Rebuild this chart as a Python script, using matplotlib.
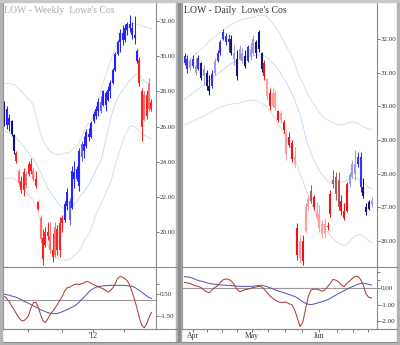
import numpy as np
import matplotlib
matplotlib.use("Agg")
import matplotlib.pyplot as plt
from matplotlib.patches import Rectangle
from matplotlib.lines import Line2D

plt.rcParams['font.family'] = 'Liberation Serif'

# ---------------- weekly LOW ----------------
wk_high = [27.44, 27.15, 26.70, 26.40, 25.58, 24.60, 23.60, 23.20, 23.66, 23.50,
           24.05, 24.20, 23.66, 23.50, 21.80, 20.96, 20.20, 20.28, 20.56, 20.56,
           19.94, 20.56, 20.40, 20.84, 20.96, 21.80, 22.53, 21.97, 23.77, 24.05,
           23.77, 24.80, 25.18, 25.46, 25.86, 25.92, 26.31, 26.87, 27.15, 27.60,
           27.72, 28.10, 28.00, 28.28, 28.67, 29.30, 30.25, 30.93, 31.55, 31.77,
           31.83, 31.94, 32.34, 31.94, 32.28, 30.42, 29.97, 28.20, 28.00, 28.10,
           28.73, 27.55]
wk_low = [26.03, 25.86, 25.75, 25.46, 24.45, 23.95, 22.65, 22.25, 22.08, 22.50,
          23.20, 23.30, 22.93, 22.50, 21.24, 19.38, 18.14, 19.15, 19.55, 18.82,
          18.31, 18.60, 18.70, 18.60, 20.00, 20.56, 21.24, 20.40, 21.35, 22.53,
          22.93, 22.37, 24.05, 24.23, 24.80, 25.18, 25.35, 26.20, 26.42, 26.60,
          26.76, 27.15, 26.87, 27.44, 27.60, 28.40, 29.13, 30.08, 30.25, 30.65,
          30.82, 31.21, 31.38, 30.99, 30.70, 29.58, 28.28, 25.20, 26.30, 26.42,
          26.87, 26.87]
wk_open = [26.30, 27.00, 26.10, 26.30, 25.50, 24.50, 23.50, 22.90, 22.40, 23.30,
           23.30, 23.90, 23.50, 23.00, 21.70, 20.80, 19.70, 19.30, 20.00, 19.80,
           19.00, 18.70, 20.20, 19.00, 20.50, 20.70, 21.50, 21.80, 21.40, 23.40,
           23.00, 22.60, 24.30, 25.00, 24.90, 25.60, 25.40, 26.30, 26.60, 26.90,
           27.40, 27.20, 27.90, 27.50, 28.00, 28.50, 29.20, 30.10, 30.80, 31.30,
           30.90, 31.50, 31.80, 31.60, 31.20, 30.30, 29.80, 28.00, 26.40, 27.80,
           27.00, 27.40]
wk_close = [27.20, 26.10, 26.50, 25.60, 24.60, 24.05, 22.80, 22.40, 23.40, 22.70,
            23.90, 23.50, 23.00, 22.60, 21.30, 19.60, 18.50, 20.00, 19.80, 19.00,
            18.60, 20.30, 19.00, 20.50, 20.80, 21.60, 22.30, 20.70, 23.50, 23.00,
            23.60, 24.60, 25.00, 24.60, 25.70, 25.40, 26.20, 26.70, 27.00, 27.40,
            26.90, 28.00, 27.20, 28.10, 28.50, 29.20, 30.10, 30.80, 31.30, 30.90,
            31.60, 31.80, 31.60, 31.20, 31.00, 29.70, 28.50, 26.00, 27.80, 26.60,
            28.50, 27.00]
wk_tone = list("nbbnn" + "rprrprrprrprrrprprrr" + "bblbbbblbbbbbbblbbbbbbbbbbbbbbb" + "rrprpr")
wk_upper = [28.45, 28.45, 28.43, 28.40, 28.40, 28.30, 28.15, 28.00, 27.85, 27.70,
            27.55, 27.45, 27.20, 26.60, 26.10, 25.60, 25.20, 24.95, 24.75, 24.60,
            24.50, 24.45, 24.40, 24.42, 24.45, 24.50, 24.50, 24.55, 24.65, 24.80,
            24.85, 25.10, 25.40, 25.70, 26.00, 26.20, 26.40, 26.60, 27.00, 27.50,
            28.00, 28.50, 28.90, 29.30, 29.70, 30.10, 30.50, 30.80, 31.10, 31.30,
            31.45, 31.60, 31.75, 31.83, 31.85, 31.80, 31.77, 31.72, 31.68, 31.64,
            31.60, 31.55]
wk_mid = [25.75, 25.70, 25.62, 25.55, 25.50, 25.35, 25.20, 25.05, 24.90, 24.70,
          24.50, 24.30, 24.15, 23.95, 23.70, 23.40, 23.10, 22.80, 22.50, 22.30,
          22.10, 21.90, 21.70, 21.50, 21.40, 21.35, 21.35, 21.40, 21.50, 21.60,
          21.75, 21.95, 22.15, 22.30, 22.50, 22.70, 22.95, 23.25, 23.55, 23.85,
          24.00, 24.60, 25.20, 25.80, 26.40, 26.90, 27.30, 27.60, 27.85, 28.05,
          28.25, 28.45, 28.60, 28.75, 28.90, 29.00, 28.95, 28.75, 28.60, 28.50,
          28.45, 28.40]
wk_lower = [23.04, 23.06, 23.08, 23.10, 23.05, 22.95, 22.80, 22.65, 22.50, 22.30,
            22.10, 21.95, 21.80, 21.50, 21.10, 20.70, 20.20, 19.70, 19.25, 18.95,
            18.80, 18.60, 18.50, 18.42, 18.42, 18.42, 18.42, 18.45, 18.55, 18.70,
            18.80, 18.95, 19.20, 19.50, 19.75, 19.90, 20.20, 20.60, 21.00, 21.30,
            21.60, 21.90, 22.20, 22.50, 22.80, 23.30, 23.80, 24.30, 24.70, 25.10,
            25.50, 25.80, 26.00, 26.05, 26.00, 25.90, 25.75, 25.60, 25.50, 25.45,
            25.35, 25.30]
wk_osc = [0.29, 0.10, -0.20, -0.60, -0.95, -1.35, -1.70, -1.95, -2.00, -1.80,
          -1.50, -0.80, -0.30, -0.25, -0.70, -1.40, -2.00, -2.15, -1.80, -1.40,
          -1.10, -0.80, -0.45, -0.05, 0.30, 0.80, 1.10, 1.15, 1.30, 1.40,
          1.45, 1.40, 1.50, 1.55, 1.70, 1.65, 1.50, 1.40, 1.30, 1.20,
          1.10, 1.00, 0.85, 0.70, 0.85, 1.10, 1.50, 2.00, 2.15, 2.10,
          1.95, 1.75, 1.35, 0.70, 0.00, -0.80, -1.70, -2.40, -2.65, -2.30,
          -1.70, -1.20]
wk_signal = [0.48, 0.45, 0.40, 0.33, 0.28, 0.20, 0.10, 0.00, -0.15, -0.25,
             -0.35, -0.48, -0.60, -0.70, -0.82, -0.95, -1.05, -1.14, -1.22, -1.28,
             -1.32, -1.33, -1.30, -1.22, -1.14, -1.05, -0.95, -0.85, -0.72, -0.60,
             -0.45, -0.25, 0.00, 0.20, 0.45, 0.70, 0.90, 1.05, 1.15, 1.22,
             1.25, 1.28, 1.30, 1.32, 1.33, 1.33, 1.33, 1.33, 1.33, 1.33,
             1.32, 1.30, 1.27, 1.24, 1.15, 1.00, 0.85, 0.70, 0.50, 0.35,
             0.20, 0.10]
wk_ticks = [9.8, 23.8, 36.9, 49.8]
wk_ticklabels = ['', '', "'12", '']

# ---------------- daily LOW ----------------
dy_high = [31.59, 31.53, 31.44, 31.53, 31.44, 31.53, 31.32, 31.23, 31.08, 30.93,
           31.08, 31.44, 31.67, 31.97, 32.30, 32.18, 32.15, 32.12, 31.82, 31.67,
           31.82, 31.73, 31.67, 31.82, 31.91, 32.12, 31.97, 32.27, 31.62, 31.38,
           30.84, 30.55, 30.55, 30.49, 29.89, 29.89, 29.60, 29.30, 29.24, 29.00,
           28.79, 26.54, 26.18, 26.18, 27.13, 27.37, 27.67, 27.37, 27.16, 27.07,
           26.63, 26.69, 26.57, 27.52, 28.11, 28.05, 28.05, 27.37, 27.13, 27.75,
           28.05, 28.41, 28.71, 28.65, 28.65, 27.87, 27.13, 27.22, 27.31]
dy_low = [31.23, 30.99, 31.08, 31.14, 30.93, 31.08, 30.78, 30.64, 30.49, 30.34,
          30.55, 30.93, 31.32, 31.53, 31.97, 31.82, 31.62, 31.53, 31.23, 30.78,
          31.38, 31.29, 31.14, 31.32, 31.38, 31.53, 31.44, 31.62, 31.02, 30.78,
          30.19, 29.89, 29.98, 29.89, 29.54, 29.51, 29.21, 28.41, 28.79, 28.35,
          28.20, 25.44, 25.35, 25.29, 26.24, 26.92, 27.13, 26.92, 26.63, 26.27,
          26.09, 26.09, 26.33, 26.72, 27.58, 27.22, 26.92, 26.77, 26.63, 26.86,
          27.61, 27.87, 27.81, 28.20, 27.46, 27.28, 26.77, 26.92, 27.01]
dy_open = [31.30, 31.40, 31.15, 31.40, 31.20, 31.10, 31.30, 30.90, 31.00, 30.60,
           30.60, 31.00, 31.35, 31.60, 32.00, 32.10, 31.90, 32.00, 31.60, 31.40,
           31.40, 31.60, 31.50, 31.35, 31.70, 31.60, 31.90, 31.70, 31.60, 31.30,
           30.80, 30.40, 30.00, 30.40, 29.85, 29.60, 29.55, 29.20, 29.10, 28.90,
           28.50, 26.40, 25.50, 26.00, 26.30, 27.00, 27.20, 27.30, 26.90, 26.80,
           26.50, 26.20, 26.45, 26.80, 27.70, 27.90, 27.80, 27.20, 26.90, 26.90,
           27.70, 27.90, 28.30, 28.30, 28.50, 27.60, 27.00, 26.95, 27.10]
dy_close = [31.50, 31.10, 31.35, 31.20, 31.00, 31.45, 30.85, 31.10, 30.60, 30.45,
            30.95, 31.35, 31.60, 31.90, 32.20, 31.90, 32.00, 31.60, 31.40, 30.90,
            31.70, 31.35, 31.20, 31.75, 31.50, 32.00, 31.60, 32.20, 31.10, 30.90,
            30.30, 30.00, 30.40, 29.95, 29.60, 29.80, 29.30, 28.60, 28.85, 28.45,
            28.30, 25.60, 26.00, 25.40, 27.00, 27.25, 27.50, 27.00, 26.70, 26.40,
            26.20, 26.50, 26.42, 27.40, 27.80, 27.40, 27.00, 26.90, 26.70, 27.70,
            27.95, 28.30, 28.00, 28.50, 27.60, 27.35, 26.85, 27.15, 27.20]
dy_tone = list("bblblbnlnnblbbbbbnlnllnbllnnn" + "rprpprprprrp" + "rprppwrpppprrwwwrrr" + "lllbbnnnlb")
dy_upper = [31.25, 31.32, 31.40, 31.47, 31.55, 31.62, 31.68, 31.76, 31.85, 31.93,
            32.00, 32.07, 32.14, 32.20, 32.27, 32.33, 32.38, 32.43, 32.47, 32.51,
            32.55, 32.58, 32.60, 32.62, 32.63, 32.65, 32.68, 32.70, 32.71, 32.70,
            32.66, 32.58, 32.48, 32.36, 32.24, 32.10, 31.95, 31.80, 31.65, 31.50,
            31.30, 31.05, 30.85, 30.70, 30.50, 30.33, 30.20, 30.08, 29.95, 29.82,
            29.73, 29.65, 29.60, 29.55, 29.52, 29.48, 29.46, 29.45, 29.46, 29.50,
            29.53, 29.54, 29.53, 29.50, 29.45, 29.40, 29.36, 29.33, 29.30]
dy_mid = [30.20, 30.27, 30.33, 30.40, 30.46, 30.52, 30.57, 30.63, 30.70, 30.77,
          30.84, 30.90, 30.97, 31.03, 31.09, 31.15, 31.21, 31.27, 31.32, 31.36,
          31.40, 31.43, 31.45, 31.47, 31.48, 31.50, 31.52, 31.53, 31.53, 31.50,
          31.45, 31.38, 31.30, 31.20, 31.10, 30.98, 30.85, 30.70, 30.55, 30.38,
          30.20, 29.98, 29.75, 29.45, 29.10, 28.85, 28.60, 28.42, 28.25, 28.10,
          27.98, 27.88, 27.80, 27.75, 27.73, 27.74, 27.75, 27.76, 27.77, 27.80,
          27.83, 27.85, 27.87, 27.86, 27.80, 27.73, 27.66, 27.60, 27.56]
dy_lower = [29.45, 29.48, 29.52, 29.56, 29.60, 29.64, 29.68, 29.72, 29.76, 29.80,
            29.85, 29.90, 29.94, 29.97, 30.00, 30.03, 30.05, 30.07, 30.08, 30.09,
            30.10, 30.12, 30.15, 30.17, 30.19, 30.19, 30.17, 30.14, 30.10, 30.05,
            29.98, 29.88, 29.76, 29.64, 29.50, 29.35, 29.20, 29.05, 28.90, 28.72,
            28.50, 28.25, 28.02, 27.80, 27.55, 27.35, 27.15, 26.97, 26.80, 26.65,
            26.50, 26.38, 26.27, 26.17, 26.08, 26.00, 25.94, 25.90, 25.88, 25.90,
            25.98, 26.08, 26.15, 26.18, 26.18, 26.15, 26.08, 26.00, 25.96]
dy_osc = [0.35, 0.33, 0.30, 0.22, 0.15, 0.12, 0.05, -0.10, -0.22, -0.27,
          -0.10, 0.05, 0.15, 0.35, 0.52, 0.58, 0.55, 0.45, 0.25, -0.05,
          -0.20, -0.15, -0.08, -0.06, 0.00, 0.05, 0.08, 0.12, 0.10, -0.05,
          -0.25, -0.45, -0.60, -0.72, -0.82, -0.88, -0.85, -0.85, -0.95, -1.00,
          -1.30, -1.80, -2.35, -2.10, -1.30, -0.50, -0.10, -0.05, -0.05, -0.10,
          -0.18, -0.10, 0.10, 0.30, 0.55, 0.50, 0.40, 0.20, 0.10, 0.30,
          0.45, 0.60, 0.72, 0.75, 0.55, 0.20, -0.35, -0.55, -0.60]
dy_signal = [0.72, 0.70, 0.68, 0.62, 0.55, 0.48, 0.44, 0.40, 0.35, 0.30,
             0.27, 0.25, 0.23, 0.21, 0.20, 0.19, 0.18, 0.17, 0.15, 0.13,
             0.12, 0.12, 0.12, 0.12, 0.12, 0.13, 0.15, 0.18, 0.19, 0.15,
             0.10, 0.05, -0.02, -0.10, -0.16, -0.22, -0.26, -0.32, -0.38, -0.44,
             -0.50, -0.58, -0.70, -0.82, -0.92, -0.98, -1.00, -0.97, -0.92, -0.87,
             -0.82, -0.77, -0.70, -0.62, -0.52, -0.42, -0.32, -0.24, -0.15, -0.06,
             0.03, 0.10, 0.17, 0.25, 0.30, 0.31, 0.28, 0.25, 0.20]
dy_ticks = [3.1, 8.2, 13.6, 19.1, 24.5, 30.4, 36.5, 42.7, 48.9, 55.5, 61.3, 66.7]
dy_ticklabels = ['Apr', '', '', '', 'May', '', '', '', 'Jun', '', '', '']

# bar shades
WK_COLORS = {'n': '#14148a', 'b': '#2424ff', 'l': '#6464f0', 'r': '#ff2020', 'p': '#ff7070'}
DY_COLORS = {'n': '#14147a', 'b': '#3434e8', 'l': '#9c9cd8', 'r': '#f01414',
             'p': '#ff9c9c', 'w': '#a85c5c'}

W, H = 400, 345
fig = plt.figure(figsize=(W / 100, H / 100), dpi=100)
fig.patch.set_facecolor('white')


def box(x0, y0, x1, y1):
    return [x0 / W, 1 - y1 / H, (x1 - x0) / W, (y1 - y0) / H]


def style(ax):
    ax.set_facecolor('white')
    for s in ax.spines.values():
        s.set_color('#8c8c8c')
        s.set_linewidth(0.8)
    ax.spines['top'].set_visible(False)
    ax.yaxis.tick_right()
    ax.tick_params(axis='y', direction='out', length=2, width=0.5, color='#404040',
                   labelsize=5, labelcolor='#303030', pad=1)


def bars(ax, hi, lo, op, cl, tone, cmap, body):
    x = np.arange(len(hi))
    cols = [cmap[t] for t in tone]
    ax.vlines(x, lo, hi, colors=cols, lw=0.75)
    ax.vlines(x, np.minimum(op, cl), np.maximum(op, cl), colors=cols, lw=body)


def panel(x0, x1, n, hi, lo, op, cl, tone, cmap, up, mid, dn, osc, sig,
          ylim, yt, ylbl, oylim, oyt, oylbl, xt, xtl, xlim, title, tcol):
    ax = fig.add_axes(box(x0, 2, x1, 267))
    style(ax)
    x = np.arange(n)
    ax.plot(x, up, color='#dadada', lw=0.6)
    ax.plot(x, dn, color='#dadada', lw=0.6)
    ax.plot(x, mid, color='#bcd8f4', lw=0.6)
    bars(ax, hi, lo, op, cl, tone, cmap, 1.5)
    ax.set_xlim(*xlim)
    ax.set_ylim(*ylim)
    ax.set_yticks(yt)
    ax.set_yticklabels(ylbl)
    ax.set_xticks([])
    ax.text(0.008, 0.985, title, transform=ax.transAxes, ha='left', va='top',
            fontsize=7, color=tcol)

    ox = fig.add_axes(box(x0, 267, x1, 329))
    style(ox)
    ox.axhline(0, color='#9a9a9a', lw=0.8)
    ox.plot(x, sig, color='#5a5ab4', lw=0.75)
    ox.plot(x, osc, color='#b43c3c', lw=0.75)
    ox.set_xlim(*xlim)
    ox.set_ylim(*oylim)
    ox.set_yticks(oyt)
    ox.set_yticklabels(oylbl)
    ox.set_xticks(xt)
    ox.set_xticklabels(xtl)
    ox.tick_params(axis='x', direction='out', length=2, width=0.5, color='#404040',
                   labelsize=5.5, labelcolor='#303030', pad=0.5)
    return ax, ox


panel(3, 156, len(wk_high), wk_high, wk_low, wk_open, wk_close, wk_tone, WK_COLORS,
      wk_upper, wk_mid, wk_lower, wk_osc, wk_signal,
      (18.03, 33.07), [20, 22, 24, 26, 28, 30, 32],
      ['20.00', '22.00', '24.00', '26.00', '28.00', '30.00', '32.00'],
      (-2.76, 3.05), [1.5, 0.5, -1.5], ['', '0.50', '-1.50'],
      wk_ticks, wk_ticklabels, (-0.6, 62.9), "LOW - Weekly  Lowe's Cos", '#a8a8a8')

panel(182, 377, len(dy_high), dy_high, dy_low, dy_open, dy_close, dy_tone, DY_COLORS,
      dy_upper, dy_mid, dy_lower, dy_osc, dy_signal,
      (25.23, 33.1), [26, 27, 28, 29, 30, 31, 32],
      ['26.00', '27.00', '28.00', '29.00', '30.00', '31.00', '32.00'],
      (-2.5, 1.31), [1.0, 0.5, 0, -1, -2], ['', '', '0.00', '-1.00', '-2.00'],
      dy_ticks, dy_ticklabels, (-0.91, 70.0), "LOW - Daily  Lowe's Cos", '#383838')

# frame: pane dividers through the label columns, separator and outer border
for (a, b) in [(3, 177), (182, 397)]:
    for yy in (267, 329, 342):
        fig.add_artist(Line2D([a / W, b / W], [1 - yy / H, 1 - yy / H],
                              color='#8c8c8c', lw=0.8))
fig.add_artist(Rectangle((176 / W, 0), 5 / W, 1, color='#b4b4b4'))
fig.add_artist(Rectangle((177.5 / W, 0), 2 / W, 1, color='#8c8c8c'))
fig.add_artist(Rectangle((397 / W, 0), 3 / W, 1, color='#b4b4b4'))
fig.add_artist(Rectangle((0, 0), 2 / W, 1, color='#b4b4b4'))
fig.add_artist(Rectangle((0, 0), 1, 2 / H, color='#b4b4b4'))
fig.add_artist(Rectangle((0, 1 - 1.5 / H), 1, 1.5 / H, color='#c8c8c8'))

fig.savefig('out.png', dpi=100)
